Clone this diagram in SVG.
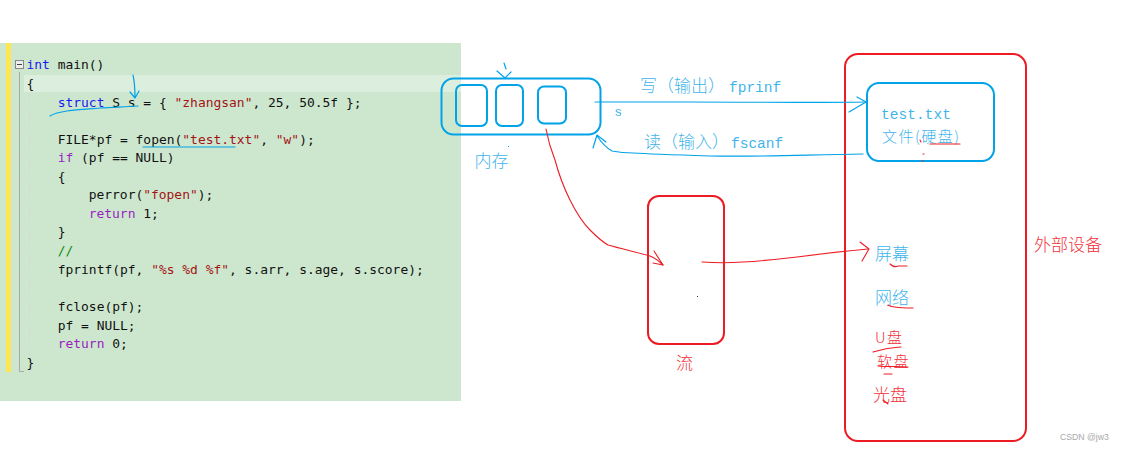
<svg xmlns="http://www.w3.org/2000/svg" width="1123" height="452" viewBox="0 0 1123 452">
<style>
.code{font-family:"DejaVu Sans Mono","Liberation Mono",monospace;font-size:12.95px;fill:#111;white-space:pre}
.k{fill:#1a1aee}.p{fill:#9a1fc0}.st{fill:#a31515}.c{fill:#118a11}
.zh{font-family:"Noto Sans CJK SC",sans-serif;font-size:17px;font-weight:300}
.tight{font-size:15px;letter-spacing:1.500px}
.serif{font-family:"Liberation Mono",monospace;font-size:14.5px}
.blue{fill:#3fb4ea}.red{fill:#f0323c}
.bl{fill:none;stroke:#00a2e8;stroke-width:2}
.rd{fill:none;stroke:#ed1c24;stroke-width:2}
.bt{fill:none;stroke:#00a2e8;stroke-width:1.2;stroke-linecap:round;stroke-linejoin:round}
.rt{fill:none;stroke:#ed1c24;stroke-width:1.1;stroke-linecap:round;stroke-linejoin:round}
</style>
<rect width="1123" height="452" fill="#fff"/>
<g id="code">
<rect x="0" y="43" width="461" height="358" fill="#cde7cf"/>
<rect x="24" y="75" width="437" height="17" fill="#dceedd"/>
<rect x="6" y="43" width="5" height="329" fill="#fde650"/>
<path d="M19.500 72V371.500H24" fill="none" stroke="#a9a9a9"/>
<path d="M29.500 94V360" fill="none" stroke="#d8d8d0" stroke-dasharray="3 3"/>
<rect x="15.500" y="60.500" width="8" height="8" fill="#eee" stroke="#888"/>
<path d="M17 64.500H22" stroke="#444"/>
<text class="code" x="26.500" y="69"><tspan class="k">int</tspan> main()</text>
<text class="code" x="26.500" y="88">{</text>
<text class="code" x="57.700" y="106.500"><tspan class="k">struct</tspan> S s = { <tspan class="st">"zhangsan"</tspan>, 25, 50.5f };</text>
<text class="code" x="57.700" y="143.500">FILE*pf = fopen(<tspan class="st">"test.txt"</tspan>, <tspan class="st">"w"</tspan>);</text>
<text class="code" x="57.700" y="162"><tspan class="p">if</tspan> (pf == NULL)</text>
<text class="code" x="57.700" y="181">{</text>
<text class="code" x="88.700" y="199"><tspan>perror(</tspan><tspan class="st">"fopen"</tspan>);</text>
<text class="code" x="88.700" y="218"><tspan class="p">return</tspan> 1;</text>
<text class="code" x="57.700" y="236">}</text>
<text class="code" x="57.700" y="255"><tspan class="c">//</tspan></text>
<text class="code" x="57.700" y="273.500">fprintf(pf, <tspan class="st">"%s %d %f"</tspan>, s.arr, s.age, s.score);</text>
<text class="code" x="57.700" y="311">fclose(pf);</text>
<text class="code" x="57.700" y="329.500">pf = NULL;</text>
<text class="code" x="57.700" y="348"><tspan class="p">return</tspan> 0;</text>
<text class="code" x="26.500" y="367">}</text>
</g>
<g id="memory">
<rect class="bl" x="441.500" y="78.500" width="159" height="56" rx="12"/>
<text class="zh blue" x="474.500" y="167">内存</text>
</g>
<g id="cell1"><rect class="bl" x="456" y="85" width="31" height="41" rx="6"/></g>
<g id="cell2"><rect class="bl" x="496" y="85" width="27" height="41" rx="6"/></g>
<g id="cell3"><rect class="bl" x="538" y="86.500" width="28" height="37" rx="6"/></g>
<g id="file">
<rect class="bl" x="867" y="83" width="127" height="78" rx="12"/>
<text class="serif blue" x="881" y="118.500" textLength="70">test.txt</text>
<text class="zh tight blue" x="882" y="142">文件(硬盘)</text>
</g>
<g id="stream">
<rect class="rd" x="648" y="196" width="76" height="148" rx="11"/>
<text class="zh red" x="676" y="369">流</text>
</g>
<g id="devices">
<rect class="rd" x="845" y="54" width="181" height="387" rx="13"/>
<text class="zh red" x="1034" y="251">外部设备</text>
</g>
<g id="dev-screen"><text class="zh blue" x="875" y="260">屏幕</text></g>
<g id="dev-net"><text class="zh blue" x="875" y="304">网络</text></g>
<g id="dev-u"><text class="zh tight red" x="875" y="343">U盘</text></g>
<g id="dev-soft"><text class="zh tight red" x="877" y="366.500">软盘</text></g>
<g id="dev-cd"><text class="zh red" x="873" y="401">光盘</text></g>
<g id="labels">
<text class="zh blue" x="640" y="92">写（输出）<tspan class="serif" dx="4">fprinf</tspan></text>
<text class="zh blue" x="644" y="148">读（输入）<tspan class="serif" dx="2">fscanf</tspan></text>
<text font-family="Liberation Sans, sans-serif" font-size="13" class="blue" x="615" y="116">s</text>
<text font-family="Liberation Sans, sans-serif" font-size="8.700" fill="#a8a8a8" x="1060" y="440">CSDN @jw3</text>
</g>
<g id="connectors">
<path class="bt" d="M595 102H690C760 102 820 103 866 102"/>
<path class="bt" d="M857 97L866 102L849 112"/>
<path class="bt" d="M863 154C800 155 760 157 710 156C680 155 650 154 633 153C625 153 617 152 612 151C605 147 601 142 597 136"/>
<path class="bt" d="M593 148L597 135L606 142"/>
<path class="bt" d="M504 63L506 69M497 71L505 78L511 72"/>
<path class="bt" d="M133 75C135 84 135 90 135 98M130 92L135 98L139 91"/>
<path class="bt" d="M50 116C55 113 60 112 67 111C80 109 90 109 100 108C115 107 125 107 138 106"/>
<path class="bt" d="M143 147L235 147"/>
<path class="rt" d="M546 129C548 140 551 150 555 160C559 175 564 188 570 200C576 212 582 222 590 230C596 236 601 241 608 245C622 249 636 252 650 256C655 258 660 262 663 265"/>
<path class="rt" d="M654 251L663 265L653 263"/>
<path class="rt" d="M702 262C715 263 730 263 743 262C760 261 780 259 797 257C820 254 845 251 868 249"/>
<path class="rt" d="M860 242L869 249L862 261"/>
<path class="rt" d="M930 144H960M920 140L921 142M923 154H924M922 161H923"/>
<path class="rt" d="M890 264C893 267 896 267 898 266L907 266"/>
<path class="rt" d="M888 305C891 307 893 307 895 307C901 308 907 308 913 308"/>
<path class="rt" d="M873 352C877 351 881 350 885 349C891 348 896 347 901 347"/>
<path class="rt" d="M884 374H892M878 366C888 367 898 366 908 367"/>
<path class="rt" d="M883 400L888 404"/>
<path d="M697 296h1v1h-1z" fill="#333"/>
<path d="M508 146h1v1h-1z" fill="#00a2e8"/>
</g>
</svg>
